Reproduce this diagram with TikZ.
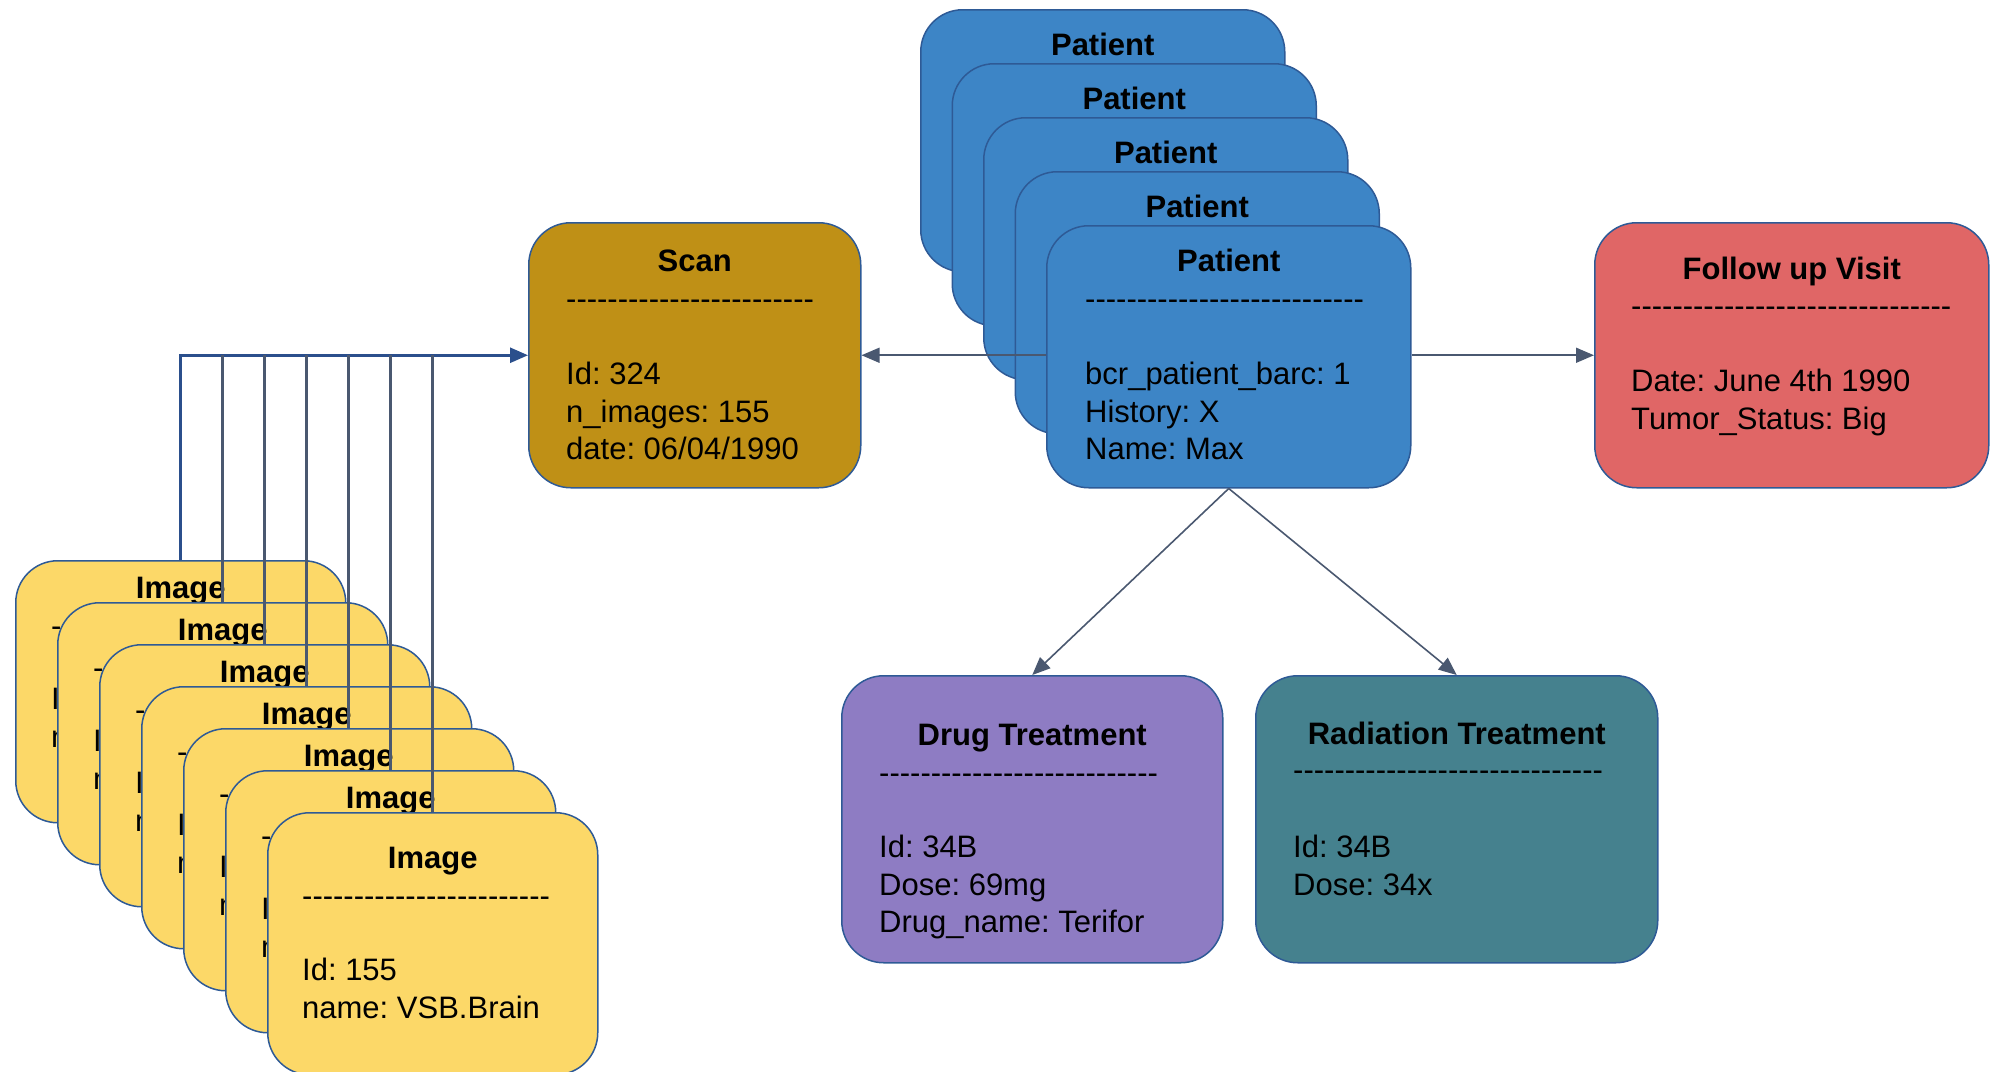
\documentclass[tikz,border=0pt]{standalone}
\usepackage{fontspec}
\setmainfont{Liberation Sans}
\usetikzlibrary{arrows.meta}
\definecolor{patblue}{HTML}{3D85C6}
\definecolor{scangold}{HTML}{BF9016}
\definecolor{followred}{HTML}{E06666}
\definecolor{imgyellow}{HTML}{FCD868}
\definecolor{drugpurple}{HTML}{8E7CC3}
\definecolor{radteal}{HTML}{45818E}
\definecolor{boxline}{HTML}{2E5A96}
\definecolor{connc}{HTML}{4A5870}
\definecolor{busc}{HTML}{2B4F8C}
\newcommand\dashrow[1]{\foreach \n in {1,...,#1}{-\kern0pt}}
\tikzset{
  box/.style={rectangle, draw=boxline, line width=1.5pt, rounded corners=42pt, inner sep=0pt, anchor=north west},
  ttl/.style={font=\fontsize{31}{37.5}\selectfont\bfseries, anchor=base, inner sep=0pt},
  dsh/.style={font=\fontsize{31}{37.5}\selectfont, anchor=base west, inner sep=0pt},
  bdy/.style={font=\fontsize{31}{37.5}\selectfont, anchor=north west, inner sep=0pt, align=left},
  conn/.style={draw=connc, line width=1.6pt},
  arr/.style={conn, -{Triangle[length=18pt,width=15pt]}},
  bus/.style={draw=connc, line width=2.6pt}
}
\begin{document}
\frenchspacing
\begin{tikzpicture}[x=1pt,y=-1pt]
\useasboundingbox (0,0) rectangle (1992,1071);

% ---------- Image stack (back cards: only the parts that peek out) ----------
\foreach \k in {1,...,6}{
  \pgfmathsetmacro\xx{15+42*(\k-1)}
  \pgfmathsetmacro\yy{560+42*(\k-1)}
  \node[box, fill=imgyellow, minimum width=330pt, minimum height=262pt] (img\k) at (\xx,\yy) {};
  \node[ttl] (img\k t) at ([yshift=-38pt]img\k.north) {Image};
  \node[dsh] (img\k d) at ([xshift=36pt,yshift=-76pt]img\k.north west) {-};
  \node[bdy] (img\k b) at ([xshift=36pt,yshift=-128pt]img\k.north west) {I\\n};
}
\node[box, fill=imgyellow, minimum width=330pt, minimum height=262pt] (img7) at (267,812) {};
\node[ttl] (img7t) at ([yshift=-56pt]img7.north) {Image};
\node[dsh] (img7d) at ([xshift=35pt,yshift=-94pt]img7.north west) {\dashrow{24}};
\node[bdy] (img7b) at ([xshift=35pt,yshift=-146pt]img7.north west) {Id: 155\\name: VSB.Brain};

% ---------- Patient stack ----------
\foreach \k in {1,...,4}{
  \pgfmathsetmacro\xx{920+31.5*(\k-1)}
  \pgfmathsetmacro\yy{9+54*(\k-1)}
  \node[box, fill=patblue, minimum width=364pt, minimum height=262pt] (pat\k) at (\xx,\yy) {};
  \node[ttl] (pat\k t) at ([yshift=-46pt]pat\k.north) {Patient};
}
\node[box, fill=patblue, minimum width=364pt, minimum height=262pt] (pat5) at (1046,225) {};
\node[ttl] (pat5t) at ([yshift=-46pt]pat5.north) {Patient};
\node[dsh] (pat5d) at ([xshift=39pt,yshift=-84pt]pat5.north west) {\dashrow{27}};
\node[bdy] (pat5b) at ([xshift=39pt,yshift=-137pt]pat5.north west) {bcr\_patient\_barc: 1\\History: X\\Name: Max};

% ---------- Scan ----------
\node[box, fill=scangold, minimum width=332pt, minimum height=265pt] (scan) at (528,222) {};
\node[ttl] (scant) at ([yshift=-49pt]scan.north) {Scan};
\node[dsh] (scand) at ([xshift=38pt,yshift=-87pt]scan.north west) {\dashrow{24}};
\node[bdy] (scanb) at ([xshift=38pt,yshift=-140pt]scan.north west) {Id: 324\\n\_images: 155\\date: 06/04/1990};

% ---------- Follow up Visit ----------
\node[box, fill=followred, minimum width=394pt, minimum height=265pt] (fu) at (1594,222) {};
\node[ttl] (fut) at ([yshift=-57pt]fu.north) {Follow up Visit};
\node[dsh] (fud) at ([xshift=37pt,yshift=-94pt]fu.north west) {\dashrow{31}};
\node[bdy] (fub) at ([xshift=37pt,yshift=-147pt]fu.north west) {Date: June 4th 1990\\Tumor\_Status: Big};

% ---------- Drug Treatment ----------
\node[box, fill=drugpurple, minimum width=381pt, minimum height=287pt] (drug) at (841,675) {};
\node[ttl] (drugt) at ([yshift=-70pt]drug.north) {Drug Treatment};
\node[dsh] (drugd) at ([xshift=38pt,yshift=-108pt]drug.north west) {\dashrow{27}};
\node[bdy] (drugb) at ([xshift=38pt,yshift=-160pt]drug.north west) {Id: 34B\\Dose: 69mg\\Drug\_name: Terifor};

% ---------- Radiation Treatment ----------
\node[box, fill=radteal, minimum width=402pt, minimum height=287pt] (rad) at (1255,675) {};
\node[ttl] (radt) at ([yshift=-69pt]rad.north) {Radiation Treatment};
\node[dsh] (radd) at ([xshift=38pt,yshift=-105pt]rad.north west) {\dashrow{30}};
\node[bdy] (radb) at ([xshift=38pt,yshift=-160pt]rad.north west) {Id: 34B\\Dose: 34x};

% ---------- Connectors ----------
\draw[bus, draw=busc, -{Triangle[length=18pt,width=15pt]}] (img1.north) |- (scan.west);
\foreach \k in {2,...,7}{
  \draw[bus] (img\k.north) -- (img\k.north |- scan.west);
}
\draw[arr] (scan.east -| pat5.west) -- (scan.east);
\draw[arr] (pat5.east |- scan.east) -- (fu.west |- scan.east);
\draw[arr] (pat5.south) -- (drug.north);
\draw[arr] (pat5.south) -- (rad.north);
\end{tikzpicture}
\end{document}
